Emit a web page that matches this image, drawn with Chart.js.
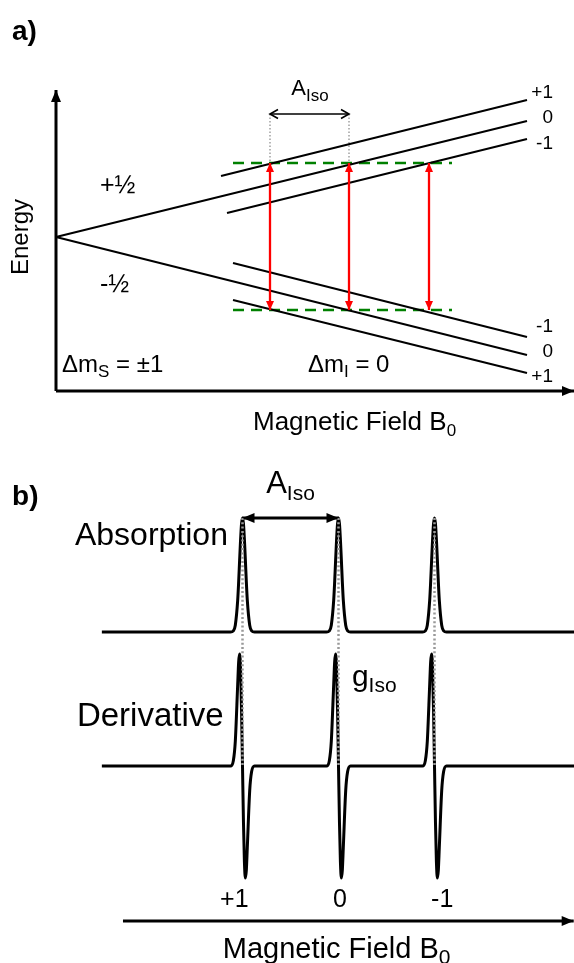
<!DOCTYPE html>
<html><head><meta charset="utf-8">
<script src="https://cdn.jsdelivr.net/npm/chart.js@4.4.1/dist/chart.umd.min.js"></script>
<style>html,body{margin:0;padding:0;background:#fff;}#wrap{position:relative;width:574px;height:963px;}</style>
</head><body><div id="wrap"><canvas id="c"></canvas></div>
<script>
// ================= DATA =================
// ---- Panel a: energy levels vs magnetic field (arbitrary units)
const mainField        = [0.00, 4.71];
const upperZeroEnergy  = [0.00, 1.16];   // mS=+1/2, mI=0
const upperPlusField   = [1.65, 4.71];
const upperPlusEnergy  = [0.61, 1.37];   // mS=+1/2, mI=+1
const upperMinusField  = [1.71, 4.71];
const upperMinusEnergy = [0.24, 0.98];   // mS=+1/2, mI=-1
const lowerZeroEnergy  = [0.00, -1.18];  // mS=-1/2, mI=0
const lowerMinusField  = [1.77, 4.71];
const lowerMinusEnergy = [-0.26, -1.00]; // mS=-1/2, mI=-1
const lowerPlusField   = [1.77, 4.71];
const lowerPlusEnergy  = [-0.63, -1.36]; // mS=-1/2, mI=+1
const resonanceFields  = [2.14, 2.93, 3.73];
const resonanceEnergies = [-0.73, 0.74];
const quantumSpanField = [1.77, 3.96];
const aIsoFieldsA      = [2.14, 2.93];
const aIsoEnergyA      = 1.23;
const upperLevelLabels = ['+1', '0', '-1'];
const upperLabelEnergy = [1.39, 1.14, 0.88];
const lowerLevelLabels = ['-1', '0', '+1'];
const lowerLabelEnergy = [-0.95, -1.20, -1.45];
const axisAField  = [0, 5.18];
const axisAEnergy = [-1.54, 1.47];

// ---- Panel b: spectrum (field in mT, normalised signals)
const peakFields  = [338.0, 340.0, 342.0];
const peakLabels  = ['+1', '0', '-1'];
const lineOffsets = [-0.25,-0.19,-0.15,-0.10,-0.08,-0.06,-0.04,-0.02,0,0.02,0.04,0.06,0.08,0.10,0.15,0.19,0.25];
const absorptionProfile = [0,0.01,0.06,0.28,0.44,0.63,0.81,0.95,1,0.95,0.81,0.63,0.44,0.28,0.06,0.01,0];
const derivativeProfile = [0,0.05,0.22,0.73,0.93,1.00,0.86,0.50,0,-0.50,-0.86,-1.00,-0.93,-0.73,-0.22,-0.05,0];
const sweepField  = [335.07, 345.0];
const aIsoFieldsB = [338.0, 340.0];
const axisBField  = [335.51, 344.9];
const axisBLevel  = -1.384;
const guideSpan   = [1.0, -1.18];

// ================= BUILD =================
const FONT = "'Liberation Sans', Arial, Helvetica, sans-serif";
const W = 574, H = 963;
function rng(anchorPx, anchorVal, pxPerUnit, total, vertical) {
  if (vertical) return {max: anchorVal + anchorPx / pxPerUnit, min: anchorVal - (total - anchorPx) / pxPerUnit};
  return {min: anchorVal - anchorPx / pxPerUnit, max: anchorVal + (total - anchorPx) / pxPerUnit};
}
const sXA = rng(56, 0, 100, W, false), sYA = rng(237, 0, 100, H, true);
const sXB = rng(338.5, 340, 48, W, false);
const sYAbs = rng(632, 0, 114, H, true), sYDer = rng(766, 0, 112, H, true);

const datasets = [];
function addLine(xs, ys, xID, yID, style) {
  datasets.push(Object.assign({
    data: xs.map((x, i) => ({x: x, y: ys[i]})), xAxisID: xID, yAxisID: yID,
    showLine: true, pointRadius: 0, borderColor: '#000', borderWidth: 2, fill: false, tension: 0
  }, style || {}));
}
// panel a
resonanceFields.forEach(f => addLine([f, f], resonanceEnergies, 'xa', 'ya',
  {borderColor: '#ff0000', borderWidth: 2.3, arrows: {start: 'fill', end: 'fill', len: 9, half: 4, color: '#ff0000'}}));
addLine(mainField, upperZeroEnergy, 'xa', 'ya');
addLine(upperPlusField, upperPlusEnergy, 'xa', 'ya');
addLine(upperMinusField, upperMinusEnergy, 'xa', 'ya');
addLine(mainField, lowerZeroEnergy, 'xa', 'ya');
addLine(lowerMinusField, lowerMinusEnergy, 'xa', 'ya');
addLine(lowerPlusField, lowerPlusEnergy, 'xa', 'ya');
resonanceEnergies.forEach(e => addLine(quantumSpanField, [e, e], 'xa', 'ya',
  {borderColor: '#008000', borderWidth: 2.5, borderDash: [11, 7]}));
aIsoFieldsA.forEach(f => addLine([f, f], [aIsoEnergyA, resonanceEnergies[1]], 'xa', 'ya',
  {borderColor: '#888', borderWidth: 1.2, borderDash: [1.5, 2]}));
addLine(aIsoFieldsA, [aIsoEnergyA, aIsoEnergyA], 'xa', 'ya',
  {borderWidth: 1.6, arrows: {start: 'open', end: 'open', len: 8, half: 4.5, color: '#000'}});
addLine([0, 0], axisAEnergy, 'xa', 'ya', {borderWidth: 3, arrows: {end: 'fill', len: 12, half: 5, color: '#000'}});
addLine(axisAField, [axisAEnergy[0], axisAEnergy[0]], 'xa', 'ya', {borderWidth: 3, arrows: {end: 'fill', len: 12, half: 5, color: '#000'}});

// panel b
function buildSpectrum(profile) {
  const xs = [sweepField[0]], ys = [0];
  peakFields.forEach(c => lineOffsets.forEach((o, i) => { xs.push(+(c + o).toFixed(3)); ys.push(profile[i]); }));
  xs.push(sweepField[1]); ys.push(0);
  return [xs, ys];
}
peakFields.forEach(f => addLine([f, f], guideSpan, 'xb', 'yAbs',
  {borderColor: '#999', borderWidth: 2.5, borderDash: [2, 2.3]}));
const absSeries = buildSpectrum(absorptionProfile);
addLine(absSeries[0], absSeries[1], 'xb', 'yAbs', {borderWidth: 3, cubicInterpolationMode: 'monotone'});
const derSeries = buildSpectrum(derivativeProfile);
addLine(derSeries[0], derSeries[1], 'xb', 'yDer', {borderWidth: 3, cubicInterpolationMode: 'monotone'});
addLine(aIsoFieldsB, [1, 1], 'xb', 'yAbs', {borderWidth: 3, arrows: {start: 'fill', end: 'fill', len: 12, half: 5, color: '#000'}});
addLine(axisBField, [axisBLevel, axisBLevel], 'xb', 'yDer', {borderWidth: 3, arrows: {end: 'fill', len: 12, half: 5, color: '#000'}});

// ---- text annotations (positions in data units)
const texts = [
  {xs: 'xa', ys: 'ya', x: -0.44, y: 1.97, parts: [['a)', 'bold 28px']]},
  {xs: 'xa', ys: 'ya', x: -0.28, y: 0.00, rot: true, align: 'center', parts: [['Energy', '24px']]},
  {xs: 'xa', ys: 'ya', x: 0.44, y: 0.44, parts: [['+½', '25px']]},
  {xs: 'xa', ys: 'ya', x: 0.44, y: -0.55, parts: [['-½', '25px']]},
  {xs: 'xa', ys: 'ya', x: 0.06, y: -1.35, parts: [['Δm', '24px'], ['S', '17px', 5], [' = ±1', '24px']]},
  {xs: 'xa', ys: 'ya', x: 2.52, y: -1.35, parts: [['Δm', '24px'], ['I', '17px', 5], [' = 0', '24px']]},
  {xs: 'xa', ys: 'ya', x: 1.97, y: -1.93, parts: [['Magnetic Field B', '26px'], ['0', '17px', 6]]},
  {xs: 'xa', ys: 'ya', x: 2.54, y: 1.42, align: 'center', parts: [['A', '22px'], ['Iso', '17px', 6]]},
  {xs: 'xb', ys: 'yAbs', x: 333.20, y: 1.11, parts: [['b)', 'bold 28px']]},
  {xs: 'xb', ys: 'yAbs', x: 339.0, y: 1.22, align: 'center', parts: [['A', '31px'], ['Iso', '21px', 7]]},
  {xs: 'xb', ys: 'yAbs', x: 334.51, y: 0.76, parts: [['Absorption', '32px']]},
  {xs: 'xb', ys: 'yDer', x: 334.55, y: 0.36, parts: [['Derivative', '33px']]},
  {xs: 'xb', ys: 'yDer', x: 340.28, y: 0.71, parts: [['g', '30px'], ['Iso', '21px', 6]]},
  {xs: 'xb', ys: 'yDer', x: 337.59, y: -1.71, parts: [['Magnetic Field B', '29px'], ['0', '21px', 6]]}
];
const peakLabelNudge = [-0.17, 0.03, 0.16];
upperLevelLabels.forEach((t, i) => texts.push({xs: 'xa', ys: 'ya', x: 4.97, y: upperLabelEnergy[i], align: 'right', parts: [[t, '19px']]}));
lowerLevelLabels.forEach((t, i) => texts.push({xs: 'xa', ys: 'ya', x: 4.97, y: lowerLabelEnergy[i], align: 'right', parts: [[t, '19px']]}));
peakLabels.forEach((t, i) => texts.push({xs: 'xb', ys: 'yDer', x: peakFields[i] + peakLabelNudge[i], y: -1.26, align: 'center', parts: [[t, '25px']]}));

function drawParts(ctx, px, py, parts, align) {
  let total = 0;
  const ws = parts.map(p => { ctx.font = p[1] + ' ' + FONT; const w = ctx.measureText(p[0]).width; total += w; return w; });
  let x0 = align === 'center' ? px - total / 2 : (align === 'right' ? px - total : px);
  ctx.textAlign = 'left'; ctx.textBaseline = 'alphabetic';
  parts.forEach((p, i) => { ctx.font = p[1] + ' ' + FONT; ctx.fillText(p[0], x0, py + (p[2] || 0)); x0 += ws[i]; });
}

const decorPlugin = {
  id: 'decor',
  afterDatasetsDraw(chart) {
    const ctx = chart.ctx;
    chart.data.datasets.forEach((ds, i) => {
      if (!ds.arrows) return;
      const pts = chart.getDatasetMeta(i).data;
      const a = ds.arrows;
      const head = (tip, from, kind) => {
        const ang = Math.atan2(tip.y - from.y, tip.x - from.x);
        const bx = tip.x - a.len * Math.cos(ang), by = tip.y - a.len * Math.sin(ang);
        const nx = -Math.sin(ang) * a.half, ny = Math.cos(ang) * a.half;
        ctx.save();
        ctx.strokeStyle = a.color; ctx.fillStyle = a.color;
        ctx.beginPath();
        ctx.moveTo(bx + nx, by + ny); ctx.lineTo(tip.x, tip.y); ctx.lineTo(bx - nx, by - ny);
        if (kind === 'fill') { ctx.closePath(); ctx.fill(); }
        else { ctx.lineWidth = 1.6; ctx.lineJoin = 'miter'; ctx.stroke(); }
        ctx.restore();
      };
      const n = pts.length;
      if (a.end) head(pts[n - 1], pts[n - 2], a.end);
      if (a.start) head(pts[0], pts[1], a.start);
    });
  },
  afterDraw(chart) {
    const ctx = chart.ctx;
    ctx.save();
    ctx.fillStyle = '#000';
    texts.forEach(t => {
      const px = chart.scales[t.xs].getPixelForValue(t.x);
      const py = chart.scales[t.ys].getPixelForValue(t.y);
      if (t.rot) {
        ctx.save(); ctx.translate(px, py); ctx.rotate(-Math.PI / 2);
        drawParts(ctx, 0, 0, t.parts, t.align); ctx.restore();
      } else drawParts(ctx, px, py, t.parts, t.align || 'left');
    });
    ctx.restore();
  }
};

const hid = (axis, r) => ({type: 'linear', axis: axis, position: axis === 'x' ? 'bottom' : 'left', display: false, bounds: 'data', min: r.min, max: r.max});
new Chart(document.getElementById('c'), {
  type: 'line',
  data: {datasets: datasets},
  options: {
    responsive: true, maintainAspectRatio: false, animation: false, events: [],
    layout: {padding: 0},
    plugins: {legend: {display: false}, tooltip: {enabled: false}},
    scales: {xa: hid('x', sXA), ya: hid('y', sYA), xb: hid('x', sXB), yAbs: hid('y', sYAbs), yDer: hid('y', sYDer)}
  },
  plugins: [decorPlugin]
});
</script></body></html>
